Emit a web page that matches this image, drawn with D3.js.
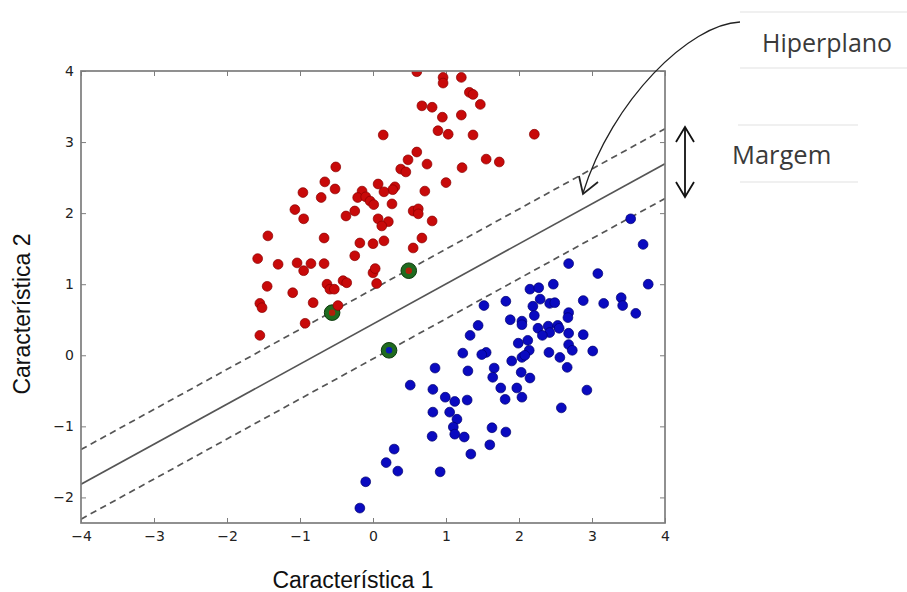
<!DOCTYPE html>
<html><head><meta charset="utf-8">
<script src="https://cdn.jsdelivr.net/npm/d3@7"></script>
<style>body{margin:0;background:#fff}svg{display:block}</style>
</head><body>
<script>
// ---- data ----
const redX = [0.60,0.96,0.96,1.21,1.32,1.37,0.67,0.81,1.47,0.95,1.21,0.14,0.89,1.03,1.37,2.21,0.60,0.48,0.74,1.55,1.73,0.38,0.45,1.22,1.00,0.07,0.30,0.27,0.15,0.71,-0.15,-0.21,-0.10,-0.04,0.01,0.26,0.55,0.62,0.62,0.81,0.07,0.21,0.12,-0.18,0.00,0.15,0.67,0.55,0.00,0.05,-0.51,-0.66,-0.52,-0.96,-0.71,-1.07,-0.95,-1.44,-0.37,-0.25,-0.67,-0.25,-1.58,-1.30,-1.04,-0.95,-0.85,-0.67,0.03,-0.63,-0.59,-0.53,-0.41,-0.36,-1.45,-1.10,-1.55,-1.52,-0.82,-0.93,-0.48,-1.55];
const redY = [3.99,3.91,3.83,3.91,3.70,3.67,3.51,3.49,3.53,3.35,3.38,3.10,3.16,3.11,3.10,3.11,2.86,2.75,2.69,2.76,2.72,2.62,2.58,2.64,2.43,2.41,2.37,2.33,2.30,2.31,2.31,2.22,2.23,2.17,2.12,2.13,2.03,2.06,1.99,1.89,1.92,1.88,1.82,1.58,1.57,1.61,1.65,1.51,1.16,1.01,2.65,2.44,2.34,2.29,2.22,2.05,1.92,1.68,1.96,2.03,1.65,1.40,1.36,1.28,1.30,1.19,1.29,1.29,1.22,1.00,0.93,0.93,1.05,1.02,0.97,0.88,0.73,0.67,0.74,0.45,0.70,0.28];
const blueX = [3.53,3.70,2.68,3.08,3.77,2.47,2.15,2.27,1.52,1.82,2.19,2.29,2.42,2.49,2.88,3.16,3.40,3.42,3.60,2.68,2.67,1.88,2.04,2.04,2.21,1.44,2.26,2.40,2.42,2.32,2.53,2.55,2.68,2.88,1.33,2.12,1.99,2.68,2.73,3.01,2.41,2.56,2.14,2.04,2.08,1.90,1.23,1.55,1.49,2.66,0.85,1.30,1.66,1.64,2.03,2.15,0.51,0.82,1.75,1.97,2.93,0.99,1.12,1.29,1.81,2.04,2.58,0.82,1.05,1.15,1.10,1.12,1.25,0.81,1.63,1.60,1.82,1.34,0.29,0.18,0.34,0.92,-0.10,-0.18];
const blueY = [1.92,1.56,1.29,1.15,1.00,1.00,0.93,0.95,0.70,0.76,0.69,0.79,0.73,0.74,0.77,0.73,0.81,0.70,0.59,0.60,0.53,0.50,0.48,0.43,0.56,0.42,0.38,0.41,0.32,0.28,0.42,0.38,0.31,0.29,0.28,0.21,0.17,0.15,0.07,0.06,0.04,-0.03,0.07,-0.03,0.00,-0.08,0.03,0.04,0.01,-0.17,-0.18,-0.22,-0.18,-0.31,-0.24,-0.32,-0.42,-0.48,-0.46,-0.46,-0.49,-0.59,-0.65,-0.63,-0.62,-0.59,-0.74,-0.80,-0.80,-0.90,-1.01,-1.11,-1.15,-1.14,-1.02,-1.26,-1.08,-1.39,-1.32,-1.51,-1.63,-1.64,-1.78,-2.15];
const svX = [-0.56, 0.49, 0.22];
const svY = [0.60, 1.19, 0.07];
const svClass = ["red","red","blue"];
const lineSlope = 0.564;
const lineIntercepts = [0.93, 0.44, -0.05];   // upper margin, hyperplane, lower margin
const lineKinds = ["dashed","solid","dashed"];
const xTicks = [-4,-3,-2,-1,0,1,2,3,4];
const yTicks = [-2,-1,0,1,2,3,4];
const xDomain = [-4, 4];
const yDomain = [-2.36, 4];
const xLabel = "Característica 1";
const yLabel = "Característica 2";
const annotHyper = "Hiperplano";
const annotMargin = "Margem";

// ---- drawing ----
const W = 907, H = 592;
const svg = d3.select("body").append("svg").attr("width", W).attr("height", H);
const L = 81, R = 665, T = 71, B = 523;
const x = d3.scaleLinear().domain(xDomain).range([L, R]);
const y = d3.scaleLinear().domain(yDomain).range([B, T]);

svg.append("defs").append("clipPath").attr("id","clip")
  .append("rect").attr("x",L).attr("y",T).attr("width",R-L).attr("height",B-T);

const fmt = d => d < 0 ? "\u2212" + Math.abs(d) : String(d);
const axisColor = "#7d7d7d";
const tickTextColor = "#222";

// axes (ticks inward)
const ax = svg.append("g").attr("transform",`translate(0,${B})`)
  .call(d3.axisBottom(x).tickValues(xTicks).tickFormat(fmt).tickSizeInner(-5).tickSizeOuter(0).tickPadding(8));
const axT = svg.append("g").attr("transform",`translate(0,${T})`)
  .call(d3.axisTop(x).tickValues(xTicks).tickFormat("").tickSizeInner(-5).tickSizeOuter(0));
const ay = svg.append("g").attr("transform",`translate(${L},0)`)
  .call(d3.axisLeft(y).tickValues(yTicks).tickFormat(fmt).tickSizeInner(-5).tickSizeOuter(0).tickPadding(7));
const ayR = svg.append("g").attr("transform",`translate(${R},0)`)
  .call(d3.axisRight(y).tickValues(yTicks).tickFormat("").tickSizeInner(-5).tickSizeOuter(0));
[ax,axT,ay,ayR].forEach(g=>{
  g.select(".domain").remove();
  g.selectAll(".tick line").attr("stroke",axisColor).attr("stroke-width",1);
  g.selectAll(".tick text").attr("fill",tickTextColor).attr("font-family","DejaVu Sans, sans-serif").attr("font-size",14);
});

// separating lines
const plot = svg.append("g").attr("clip-path","url(#clip)");
lineIntercepts.forEach((b,i)=>{
  const pts = xDomain.map(xx=>[x(xx), y(lineSlope*xx + b)]);
  plot.append("path").attr("d", d3.line()(pts))
    .attr("stroke","#555").attr("stroke-width",1.7).attr("fill","none")
    .attr("stroke-dasharray", lineKinds[i]==="dashed" ? "6.5,4.5" : null);
});

// support vectors highlight
plot.selectAll("circle.sv").data(svX).join("circle").attr("class","sv")
  .attr("cx",(d)=>x(d)).attr("cy",(d,i)=>y(svY[i])).attr("r",7.8)
  .attr("fill","#1f6b1f").attr("stroke","#0d3a0d").attr("stroke-width",1);

// points
const red = redX.map((v,i)=>[v,redY[i]]);
const blue = blueX.map((v,i)=>[v,blueY[i]]);
plot.selectAll("circle.r").data(red).join("circle").attr("class","r")
  .attr("cx",d=>x(d[0])).attr("cy",d=>y(d[1])).attr("r",4.9)
  .attr("fill","#c80a0a").attr("stroke","#8a0000").attr("stroke-width",0.7);
plot.selectAll("circle.b").data(blue).join("circle").attr("class","b")
  .attr("cx",d=>x(d[0])).attr("cy",d=>y(d[1])).attr("r",4.9)
  .attr("fill","#0a0ac0").attr("stroke","#00006e").attr("stroke-width",0.7);
// SV centers
plot.selectAll("circle.svc").data(svX).join("circle").attr("class","svc")
  .attr("cx",d=>x(d)).attr("cy",(d,i)=>y(svY[i])).attr("r",3.2)
  .attr("fill",(d,i)=>svClass[i]==="red" ? "#b0200a" : "#0a1ab4");

// frame
svg.append("rect").attr("x",L).attr("y",T).attr("width",R-L).attr("height",B-T)
  .attr("fill","none").attr("stroke",axisColor).attr("stroke-width",1.7);

// axis labels
svg.append("text").attr("x",353).attr("y",588).attr("text-anchor","middle")
  .attr("font-family","Liberation Sans, Arial, sans-serif").attr("font-size",23).attr("fill","#111").text(xLabel);
svg.append("text").attr("transform","translate(30,314) rotate(-90)").attr("text-anchor","middle")
  .attr("font-family","Liberation Sans, Arial, sans-serif").attr("font-size",23).attr("fill","#111").text(yLabel);

// annotation boxes (faint lines)
const faint = "#e2e2e2";
[[740,12,907,12],[740,68,907,68],[738,125,858,125],[740,182,858,182]].forEach(s=>{
  svg.append("line").attr("x1",s[0]).attr("y1",s[1]).attr("x2",s[2]).attr("y2",s[3]).attr("stroke",faint).attr("stroke-width",1.2);
});
svg.append("text").attr("x",762).attr("y",52).attr("font-family","Open Sans, sans-serif").attr("font-size",25)
  .attr("fill","#3a3a3a").text(annotHyper);
svg.append("text").attr("x",732).attr("y",164).attr("font-family","Open Sans, sans-serif").attr("font-size",25.5)
  .attr("fill","#3a3a3a").text(annotMargin);

// curved arrow
svg.append("path").attr("d","M740,22 C690,24 612,100 583,193")
  .attr("fill","none").attr("stroke","#222").attr("stroke-width",1.3);
svg.append("path").attr("d","M579,176 L583,194 L598,182")
  .attr("fill","none").attr("stroke","#222").attr("stroke-width",1.8);

// double arrow
svg.append("path").attr("d","M685,128 L685,196").attr("stroke","#111").attr("stroke-width",1.8).attr("fill","none");
svg.append("path").attr("d","M676,142 L685,127 L694,142 M676,182 L685,197 L694,182")
  .attr("stroke","#111").attr("stroke-width",1.8).attr("fill","none");
</script>
</body></html>
